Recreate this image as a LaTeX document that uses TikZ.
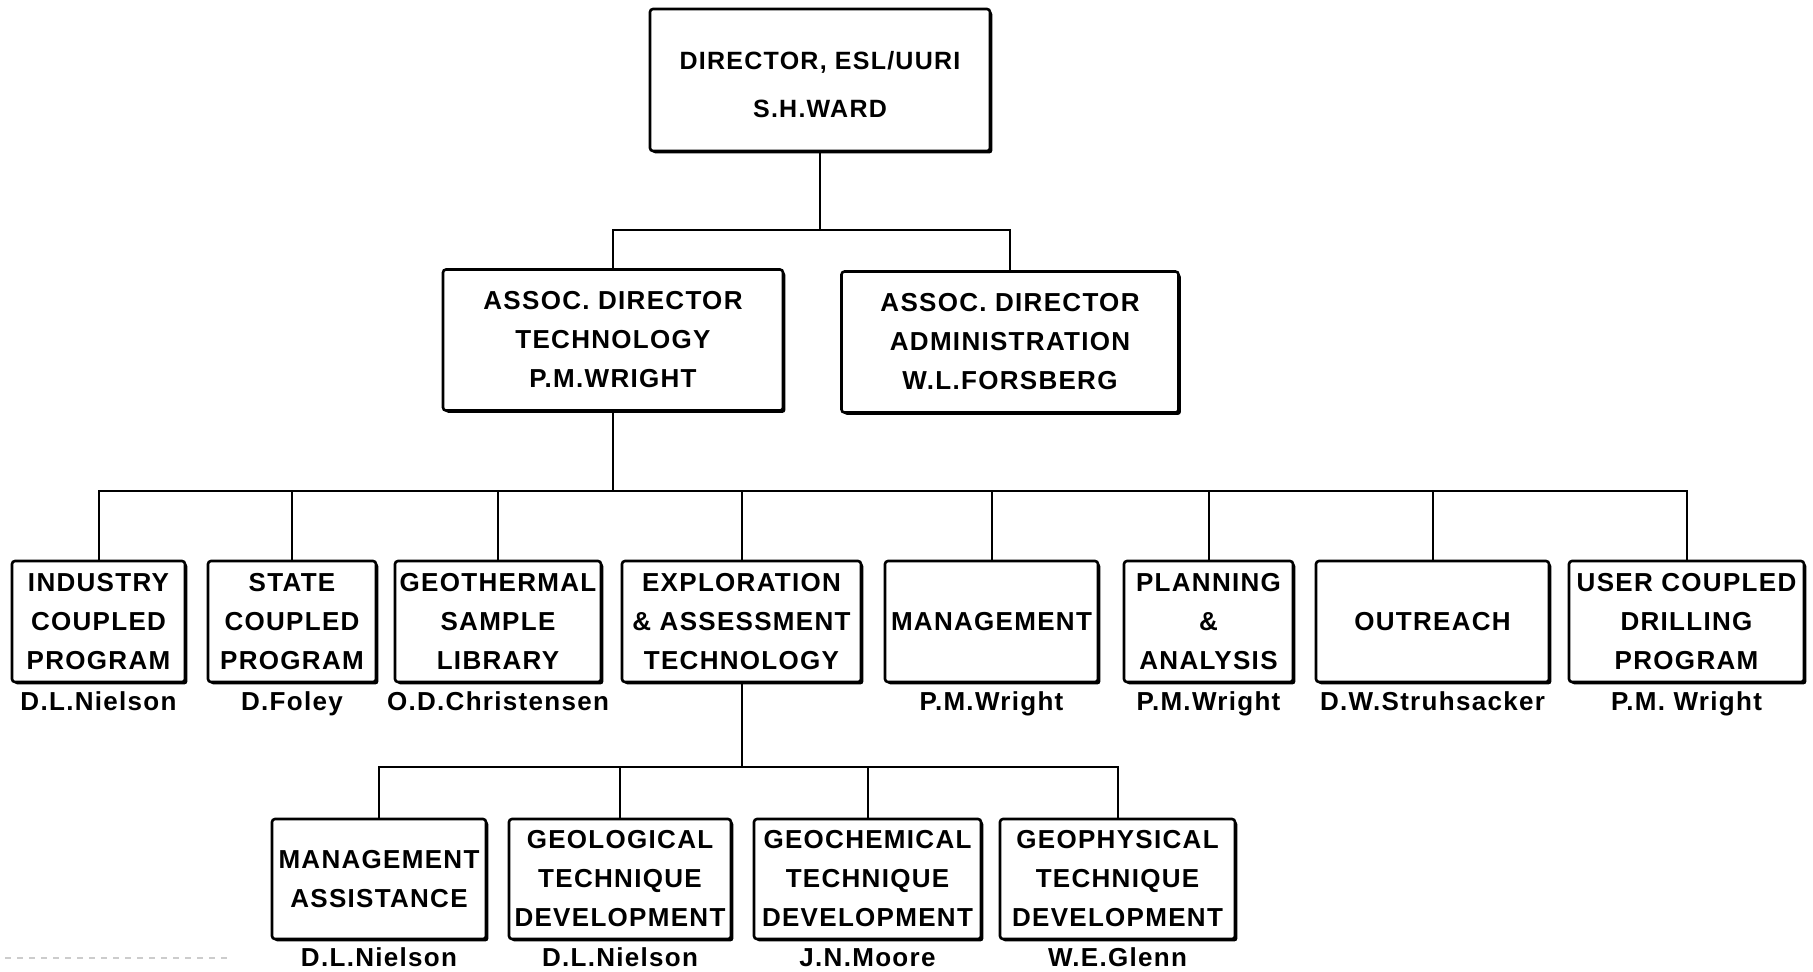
\documentclass[tikz,border=0pt]{standalone}
\usepackage{fontspec}
\setmainfont{Liberation Sans}
\newfontfamily\bxfont[LetterSpace=5]{Liberation Sans}
\usetikzlibrary{shadows}
\tikzset{
  box/.style={draw, line width=1.3pt, fill=white, rounded corners=1.5pt,
    drop shadow={shadow xshift=1.2pt, shadow yshift=-1.2pt, fill=black, opacity=1},
    align=center, inner sep=0pt, font=\bxfont\bfseries\fontsize{13}{19.5}\selectfont},
  topbox/.style={box, font=\bxfont\bfseries\fontsize{12.5}{24}\selectfont},
  nm/.style={font=\bxfont\bfseries\fontsize{13}{15}\selectfont, inner sep=0pt, anchor=base},
  conn/.style={line width=1pt}
}
\begin{document}
\begin{tikzpicture}[x=0.5pt,y=-0.5pt]
\useasboundingbox (0,0) rectangle (1813,971);
% junctions
\coordinate (j1) at (820,230);
\coordinate (j2) at (613,491);
\coordinate (j3) at (741.5,767);
% top levels
\node[topbox, minimum width=170pt, minimum height=71pt] (top) at (820,80) {\rule{0pt}{14pt}DIRECTOR, ESL/UURI\\S.H.WARD};
\node[box, minimum width=170pt, minimum height=70.5pt] (tech) at (613,340) {ASSOC. DIRECTOR\\TECHNOLOGY\\P.M.WRIGHT};
\node[box, minimum width=168.5pt, minimum height=70.5pt] (admin) at (1010,342) {ASSOC. DIRECTOR\\ADMINISTRATION\\W.L.FORSBERG};
% level 3
\node[box, minimum width=86.5pt, minimum height=60.5pt] (l1) at (98.5,621.5) {INDUSTRY\\COUPLED\\PROGRAM};
\node[box, minimum width=84pt, minimum height=60.5pt] (l2) at (292,621.5) {STATE\\COUPLED\\PROGRAM};
\node[box, minimum width=103pt, minimum height=60.5pt] (l3) at (498,621.5) {GEOTHERMAL\\SAMPLE\\LIBRARY};
\node[box, minimum width=119.5pt, minimum height=60.5pt] (l4) at (741.5,621.5) {EXPLORATION\\\& ASSESSMENT\\TECHNOLOGY};
\node[box, minimum width=106.5pt, minimum height=60.5pt] (l5) at (991.5,621.5) {MANAGEMENT};
\node[box, minimum width=84.5pt, minimum height=60.5pt] (l6) at (1208.5,621.5) {PLANNING\\\&\\ANALYSIS};
\node[box, minimum width=116.5pt, minimum height=60.5pt] (l7) at (1432.5,621.5) {OUTREACH};
\node[box, minimum width=117.5pt, minimum height=60.5pt] (l8) at (1686.5,621.5) {USER COUPLED\\DRILLING\\PROGRAM};
% names level 3
\node[nm] (n1) at (98.5,710) {D.L.Nielson};
\node[nm] (n2) at (292,710) {D.Foley};
\node[nm] (n3) at (498,710) {O.D.Christensen};
\node[nm] (n5) at (991.5,710) {P.M.Wright};
\node[nm] (n6) at (1208.5,710) {P.M.Wright};
\node[nm] (n7) at (1432.5,710) {D.W.Struhsacker};
\node[nm] (n8) at (1686.5,710) {P.M. Wright};
% level 4
\node[box, minimum width=107pt, minimum height=60pt] (m1) at (379,879) {MANAGEMENT\\ASSISTANCE};
\node[box, minimum width=111pt, minimum height=60pt] (m2) at (620,879) {GEOLOGICAL\\TECHNIQUE\\DEVELOPMENT};
\node[box, minimum width=113.5pt, minimum height=60pt] (m3) at (867.5,879) {GEOCHEMICAL\\TECHNIQUE\\DEVELOPMENT};
\node[box, minimum width=117.5pt, minimum height=60pt] (m4) at (1117.5,879) {GEOPHYSICAL\\TECHNIQUE\\DEVELOPMENT};
\node[nm] (p1) at (379,966) {D.L.Nielson};
\node[nm] (p2) at (620,966) {D.L.Nielson};
\node[nm] (p3) at (867.5,966) {J.N.Moore};
\node[nm] (p4) at (1117.5,966) {W.E.Glenn};
% connectors
\draw[conn] (top.south) -- (j1);
\draw[conn] (tech.north) |- (j1) -| (admin.north);
\draw[conn] (tech.south) -- (j2);
\draw[conn] (l1.north) |- (j2) -| (l8.north);
\foreach \n in {l2,l3,l4,l5,l6,l7} \draw[conn] (\n.north) -- (\n.north |- j2);
\draw[conn] (l4.south) -- (j3);
\draw[conn] (m1.north) |- (j3) -| (m4.north);
\foreach \n in {m2,m3} \draw[conn] (\n.north) -- (\n.north |- j3);
% faint scan marks
\coordinate (s1) at (5,958);
\coordinate (s2) at (230,958);
\draw[gray!40, dashed, line width=0.6pt] (s1) -- (s2);
\end{tikzpicture}
\end{document}
